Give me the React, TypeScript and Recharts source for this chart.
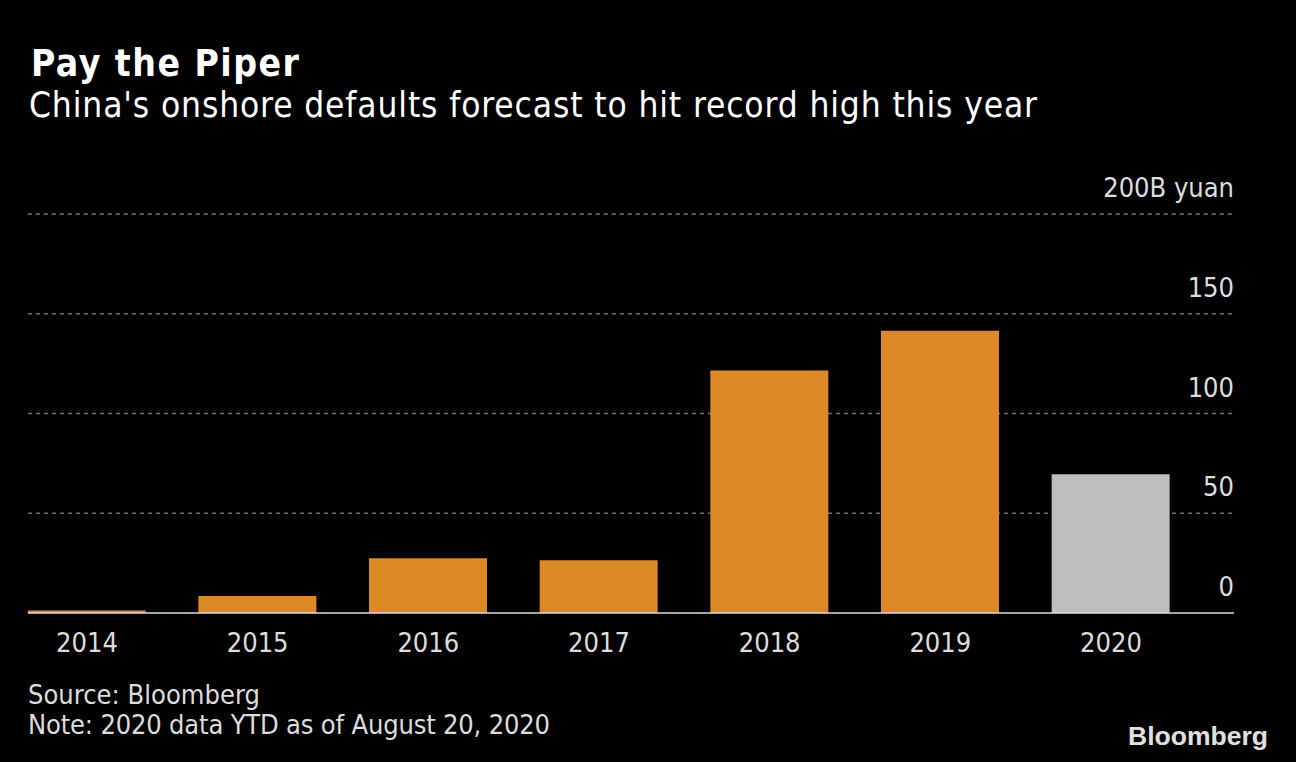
import React from 'react';
import { Bar, BarChart, CartesianGrid, Cell, XAxis, YAxis } from 'recharts';

const years = ['2014', '2015', '2016', '2017', '2018', '2019', '2020'];
const defaults = [1.3, 8.5, 27.5, 26.5, 121.5, 141.5, 69.5];
const yTicks = [0, 50, 100, 150, 200];
const gridValues = [50, 100, 150, 200];

const data = years.map((year, i) => ({ year, value: defaults[i] }));

const FONT = '"DejaVu Sans Condensed", "DejaVu Sans", sans-serif';

const XTick = (props: any) => {
  const { x, y, payload } = props;
  return (
    <text x={x} y={y + 39} textAnchor="middle" fill="#dddddd" fontSize={27} fontFamily={FONT}>
      {payload.value}
    </text>
  );
};

const YTick = (props: any) => {
  const { x, y, payload } = props;
  const label = payload.value === 200 ? '200B yuan' : String(payload.value);
  return (
    <text x={x} y={y - 17} textAnchor="end" fill="#dddddd" fontSize={27} fontFamily={FONT}>
      {label}
    </text>
  );
};

export default function App() {
  return (
    <div style={{ position: 'fixed', left: 0, top: 0, width: 1296, height: 762, background: '#000000' }}>
      <BarChart
        width={1296}
        height={762}
        data={data}
        margin={{ top: 214, right: 2, left: 28, bottom: 109 }}
        barSize={118}
      >
        <CartesianGrid
          vertical={false}
          horizontalValues={gridValues}
          stroke="#707070"
          strokeDasharray="4 4"
          strokeWidth={1.5}
        />
        <XAxis
          dataKey="year"
          height={40}
          padding={{ left: -26.3, right: 37.7 }}
          tickLine={false}
          tickSize={0}
          tickMargin={0}
          axisLine={{ stroke: '#dddddd', strokeWidth: 1.5 }}
          tick={<XTick />}
          interval={0}
        />
        <YAxis
          orientation="right"
          width={60}
          domain={[0, 200]}
          ticks={yTicks}
          tickLine={false}
          tickSize={0}
          tickMargin={0}
          axisLine={false}
          tick={<YTick />}
          interval={0}
        />
        <Bar dataKey="value" isAnimationActive={false}>
          {data.map((d) => (
            <Cell key={d.year} fill={d.year === '2020' ? '#bebebe' : '#dc8a26'} />
          ))}
        </Bar>
      </BarChart>
      <svg width={1296} height={762} style={{ position: 'absolute', left: 0, top: 0, pointerEvents: 'none' }}>
        <g fontFamily={FONT}>
          <text x={31} y={76} fill="#ffffff" fontSize={37} fontWeight="bold" textLength={268} lengthAdjust="spacing">
            Pay the Piper
          </text>
          <text x={29} y={117} fill="#ffffff" fontSize={35} textLength={1008} lengthAdjust="spacing">
            China's onshore defaults forecast to hit record high this year
          </text>
          <text x={28} y={704} fill="#dddddd" fontSize={27} textLength={232} lengthAdjust="spacing">
            Source: Bloomberg
          </text>
          <text x={28} y={734} fill="#dddddd" fontSize={27} textLength={522} lengthAdjust="spacing">
            Note: 2020 data YTD as of August 20, 2020
          </text>
        </g>
        <text
          x={1128}
          y={745}
          fill="#e0e0e0"
          fontSize={26}
          fontWeight="bold"
          fontFamily='"Liberation Sans", Arial, sans-serif'
          textLength={140}
          lengthAdjust="spacingAndGlyphs"
        >
          Bloomberg
        </text>
      </svg>
    </div>
  );
}
